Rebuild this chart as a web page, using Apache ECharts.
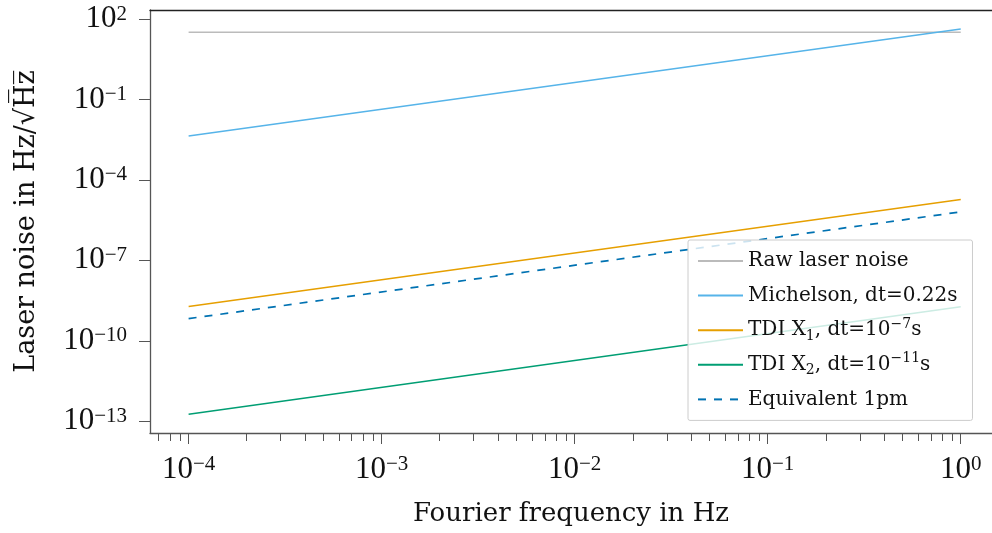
<!DOCTYPE html>
<html><head><meta charset="utf-8">
<script src="https://cdn.jsdelivr.net/npm/echarts@6/dist/echarts.min.js"></script>
<style>html,body{margin:0;padding:0;background:#fff}#c{width:992px;height:533px}</style>
</head><body><div id="c"></div>
<script>
// ---- data ----
const freq = [1e-4, 1e0];
const rawLaser = [32, 32];
const michelson = [4.3e-3, 42];
const tdiX1 = [1.9e-9, 1.85e-5];
const tdiX2 = [1.8e-13, 1.85e-9];
const equiv1pm = [6.7e-10, 6.4e-6];
const seriesNames = ['Raw laser noise', 'Michelson, dt=0.22s', 'TDI X1, dt=1e-7s', 'TDI X2, dt=1e-11s', 'Equivalent 1pm'];
const legendLabels = ['Raw laser noise', 'Michelson, dt=0.22s', 'TDI X{sub|1}, dt=10{sup|\u22127}s', 'TDI X{sub|2}, dt=10{sup|\u221211}s', 'Equivalent 1pm'];
const xMajorTicks = [1e-4, 1e-3, 1e-2, 1e-1, 1e0];
const yMajorTicks = [1e-13, 1e-10, 1e-7, 1e-4, 1e-1, 1e2];
const xMin = Math.pow(10, -4.2), xMax = Math.pow(10, 0.162);
const yMin = Math.pow(10, -13.44), yMax = Math.pow(10, 2.336);
const xMinorTicks = [];
for (let n = -5; n <= 0; n++) for (let k = 2; k <= 9; k++) { const v = k * Math.pow(10, n); if (v > xMin && v < xMax) xMinorTicks.push(v); }

const colors = ['#bbbbbb', '#56B4E9', '#E69F00', '#009E73', '#0072B2'];
const values = [rawLaser, michelson, tdiX1, tdiX2, equiv1pm];

function powLabel(v) {
  const e = Math.round(Math.log10(v));
  return '10{sup|' + (e < 0 ? '\u2212' + (-e) : e) + '}';
}
const tickRich = {
  sup: { fontFamily: 'Liberation Serif', fontSize: 21, lineHeight: 21, verticalAlign: 'top', color: '#111' }
};
const axisColor = '#555';

const chart = echarts.init(document.getElementById('c'), null, { renderer: 'canvas' });
chart.setOption({
  animation: false,
  backgroundColor: '#fff',
  grid: { left: 150, right: 0, top: 10, bottom: 100, containLabel: false, outerBoundsMode: 'none' },
  legend: {
    orient: 'vertical', left: 688, top: 240,
    padding: [8, 15, 8, 9], itemGap: 8.6, itemWidth: 45, itemHeight: 14,
    backgroundColor: 'rgba(255,255,255,0.8)', borderColor: '#cccccc', borderWidth: 1, borderRadius: 2,
    itemStyle: { opacity: 0 },
    data: seriesNames,
    formatter: function (name) { return legendLabels[seriesNames.indexOf(name)]; },
    textStyle: {
      fontFamily: 'DejaVu Serif', fontSize: 20, lineHeight: 26, color: '#111',
      rich: {
        sub: { fontFamily: 'DejaVu Serif', fontSize: 14, lineHeight: 14, verticalAlign: 'bottom', color: '#111' },
        sup: { fontFamily: 'DejaVu Serif', fontSize: 14, lineHeight: 14, verticalAlign: 'top', color: '#111' }
      }
    }
  },
  xAxis: [
    {
      type: 'log', logBase: 10, min: xMin, max: xMax, position: 'bottom',
      name: 'Fourier frequency in Hz', nameLocation: 'middle', nameGap: 68,
      nameTextStyle: { fontFamily: 'DejaVu Serif', fontSize: 26, color: '#111' },
      axisLine: { show: true, onZero: false, lineStyle: { color: axisColor, width: 1.3 } },
      axisTick: { show: true, inside: false, length: 11, customValues: xMajorTicks, lineStyle: { color: axisColor, width: 1 } },
      axisLabel: { show: true, margin: 21, customValues: xMajorTicks, formatter: powLabel,
        fontFamily: 'Liberation Serif', fontSize: 31, lineHeight: 31, color: '#111', rich: tickRich },
      splitLine: { show: false }, minorTick: { show: false }, minorSplitLine: { show: false }
    },
    {
      type: 'log', logBase: 10, min: xMin, max: xMax, position: 'bottom',
      axisLine: { show: false, onZero: false },
      axisTick: { show: true, inside: false, length: 8, customValues: xMinorTicks, lineStyle: { color: axisColor, width: 1 } },
      axisLabel: { show: false }, splitLine: { show: false }
    },
    {
      type: 'log', logBase: 10, min: xMin, max: xMax, position: 'top',
      axisLine: { show: true, onZero: false, lineStyle: { color: '#222', width: 1.3 } },
      axisTick: { show: false }, axisLabel: { show: false }, splitLine: { show: false }
    }
  ],
  yAxis: [
    {
      type: 'log', logBase: 10, min: yMin, max: yMax, position: 'left',
      name: 'Laser noise in Hz/\u221AH\u0305z\u0305', nameLocation: 'middle', nameGap: 110, nameRotate: 90,
      nameTextStyle: { fontFamily: 'DejaVu Serif', fontSize: 27, color: '#111' },
      axisLine: { show: true, onZero: false, lineStyle: { color: axisColor, width: 1.3 } },
      axisTick: { show: true, inside: false, length: 11, customValues: yMajorTicks, lineStyle: { color: axisColor, width: 1 } },
      axisLabel: { show: true, margin: 23, customValues: yMajorTicks, formatter: powLabel,
        fontFamily: 'Liberation Serif', fontSize: 31, lineHeight: 31, color: '#111', rich: tickRich },
      splitLine: { show: false }, minorTick: { show: false }
    }
  ],
  series: values.map(function (vals, i) {
    return {
      name: seriesNames[i], type: 'line', xAxisIndex: 0, yAxisIndex: 0,
      data: freq.map(function (f, j) { return [f, vals[j]]; }),
      symbol: 'none', showSymbol: false, silent: true,
      lineStyle: { color: colors[i], width: i === 4 ? 1.7 : 1.5, type: i === 4 ? [8, 8] : 'solid' },
      itemStyle: { color: colors[i] }
    };
  })
});
</script>
</body></html>
